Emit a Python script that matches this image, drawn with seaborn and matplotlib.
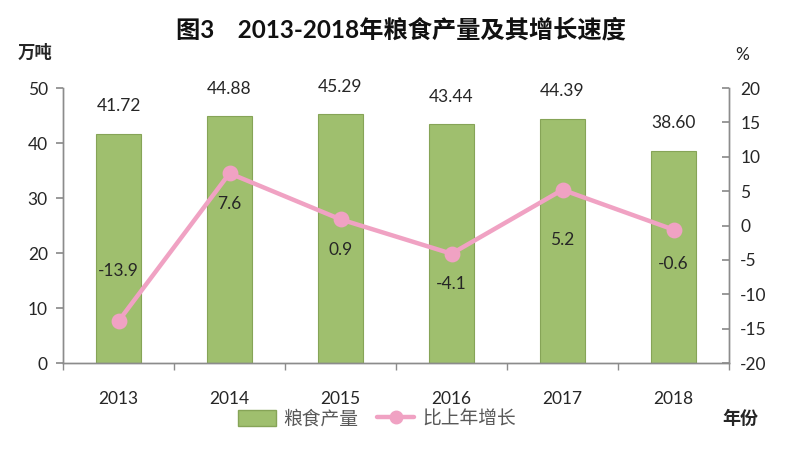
import numpy as np
import pandas as pd
import matplotlib
matplotlib.use("Agg")
import matplotlib.pyplot as plt
import seaborn as sns
from matplotlib.patches import Patch
from matplotlib.lines import Line2D

sns.set_theme(style="white")
plt.rcParams['font.family'] = ['Lato', 'Noto Sans CJK SC', 'DejaVu Sans']
plt.rcParams['axes.unicode_minus'] = False

# data
years = ["2013", "2014", "2015", "2016", "2017", "2018"]
output = [41.72, 44.88, 45.29, 43.44, 44.39, 38.60]
growth = [-13.9, 7.6, 0.9, -4.1, 5.2, -0.6]

BAR_GREEN = "#9fbf6e"
BAR_EDGE = "#86a457"
PINK = "#f0a2c3"
TXT = "#262626"
AXC = "#8c8c8c"

df = pd.DataFrame({"year": years, "output": output, "growth": growth})

fig = plt.figure(figsize=(8.02, 4.5), dpi=100)
ax = fig.add_axes([0.0786, 0.1933, 0.8304, 0.611])

sns.barplot(data=df, x="year", y="output", ax=ax, color=BAR_GREEN,
            edgecolor=BAR_EDGE, linewidth=0.8, width=0.41, saturation=1)
ax.set_ylim(0, 50)
ax.set_yticks(np.arange(0, 51, 10))
ax.set_xlim(-0.5, len(years) - 0.5)
ax.set_xlabel("")
ax.set_ylabel("")

for i, v in enumerate(output):
    ax.annotate(f"{v:.2f}", (i, v), xytext=(0, 14), textcoords="offset points",
                ha="center", va="bottom", fontsize=12.5, color=TXT)

ax2 = ax.twinx()
sns.pointplot(data=df, x="year", y="growth", ax=ax2, color=PINK,
              markers="o", markersize=9, linewidth=3.2)
ax2.set_ylim(-20, 20)
ax2.set_yticks(np.arange(-20, 21, 5))
ax2.set_xlim(-0.5, len(years) - 0.5)
ax2.set_ylabel("")
ax2.set_xlabel("")

# label offsets (points) for the growth values
offs = [36, -22, -22, -22, -36, -25]
for i, v in enumerate(growth):
    ax2.annotate(f"{v:.1f}", (i, v), xytext=(0, offs[i]), textcoords="offset points",
                 ha="center", va="center", fontsize=12.5, color=TXT)

for a in (ax, ax2):
    for s in a.spines.values():
        s.set_color(AXC)
        s.set_linewidth(1)
    a.spines["top"].set_visible(False)
    a.grid(False)

ax.tick_params(axis="y", direction="out", length=5, color=AXC, labelsize=12.5,
               labelcolor=TXT, pad=6)
ax2.tick_params(axis="y", direction="in", length=5, color=AXC, labelsize=12.5,
                labelcolor=TXT, pad=8)
ax.tick_params(axis="x", bottom=False, labelsize=12.5, labelcolor=TXT, pad=14)
ax.set_xticks(np.arange(-0.5, len(years), 1), minor=True)
ax.tick_params(axis="x", which="minor", bottom=True, direction="out", length=5,
               color=AXC)

fig.text(0.5, 0.933, "图3    2013-2018年粮食产量及其增长速度", ha="center", va="center",
         fontsize=17.5, fontweight="bold", color="#111111")
fig.text(0.044, 0.884, "万吨", ha="center", va="center", fontsize=12.5,
         fontweight="bold", color=TXT)
fig.text(0.925, 0.878, "%", ha="center", va="center", fontsize=12.5, color=TXT)
fig.text(0.923, 0.07, "年份", ha="center", va="center", fontsize=13,
         fontweight="bold", color=TXT)

handles = [Patch(facecolor=BAR_GREEN, edgecolor=BAR_EDGE),
           Line2D([0], [0], color=PINK, lw=3.2, marker="o", markersize=9)]
fig.legend(handles, ["粮食产量", "比上年增长"], loc="center", bbox_to_anchor=(0.47, 0.07),
           ncol=2, frameon=False, fontsize=13.5, labelcolor="#595959",
           handlelength=2.0, handleheight=0.9, columnspacing=1.0, handletextpad=0.4)

fig.savefig("out.png", dpi=100)
